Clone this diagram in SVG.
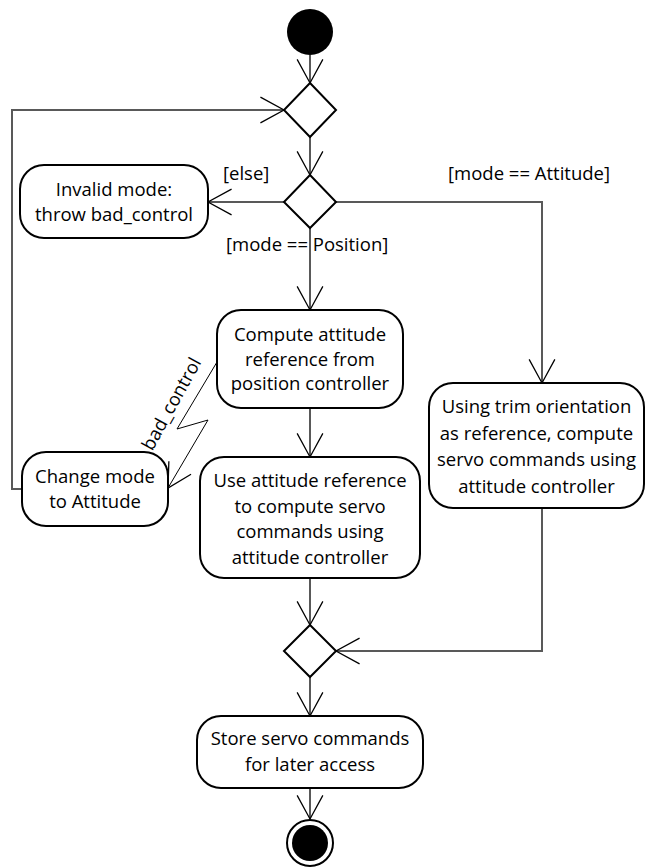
<svg xmlns="http://www.w3.org/2000/svg" width="646" height="867" viewBox="0 0 646 867">
<style>
.box{fill:#fff;stroke:#000;stroke-width:2}
.dia{fill:#fff;stroke:#000;stroke-width:2}
.t{font-family:"Open Sans","Noto Sans",sans-serif;font-size:18.5px;fill:#000;text-anchor:middle}
.l{font-family:"Open Sans","Noto Sans",sans-serif;font-size:18.5px;fill:#000}
.c{fill:none;stroke:#595959;stroke-width:2}
.z{fill:none;stroke:#000;stroke-width:1}
</style>
<defs>
<marker id="ah" markerUnits="userSpaceOnUse" markerWidth="30" markerHeight="30" viewBox="-24 -14 28 28" refX="0" refY="0" orient="auto">
<path d="M-22,-12 L0,0 L-22,12" fill="none" stroke="#000" stroke-width="1.2"/>
</marker>
</defs>
<g id="connectors">
<path class="c" d="M310,55 V83" marker-end="url(#ah)"/>
<path class="c" d="M22,489 H12 V110 H284" marker-end="url(#ah)"/>
<path class="c" d="M310,137 V175" marker-end="url(#ah)"/>
<path class="c" d="M284,202 H208" marker-end="url(#ah)"/>
<path class="c" d="M336,202 H542 V383" marker-end="url(#ah)"/>
<path class="c" d="M310,228 V310" marker-end="url(#ah)"/>
<path class="c" d="M310,408 V457" marker-end="url(#ah)"/>
<path class="z" d="M217,362 L177,429 L208,420 L168,488" marker-end="url(#ah)"/>
<path class="c" d="M310,578 V625" marker-end="url(#ah)"/>
<path class="c" d="M542,508 V651 H336" marker-end="url(#ah)"/>
<path class="c" d="M310,677 V716" marker-end="url(#ah)"/>
<path class="c" d="M310,788 V819" marker-end="url(#ah)"/>
<text class="l" x="223" y="180">[else]</text>
<text class="l" x="448" y="180">[mode == Attitude]</text>
<text class="l" x="226" y="251">[mode == Position]</text>
<text class="t" transform="translate(177,407) rotate(-61)">bad_control</text>
</g>
<g id="start"><circle cx="310" cy="32" r="23" fill="#000"/></g>
<g id="merge1"><polygon class="dia" points="310,83 336,110 310,137 284,110"/></g>
<g id="decision"><polygon class="dia" points="310,175 336,202 310,228 284,202"/></g>
<g id="invalid">
<rect class="box" x="20" y="165" width="188" height="73" rx="24"/>
<text class="t" x="114" y="196">Invalid mode:</text>
<text class="t" x="114" y="221">throw bad_control</text>
</g>
<g id="compute">
<rect class="box" x="217" y="310" width="186" height="98" rx="24"/>
<text class="t" x="310" y="341">Compute attitude</text>
<text class="t" x="310" y="365.5">reference from</text>
<text class="t" x="310" y="390">position controller</text>
</g>
<g id="change">
<rect class="box" x="22" y="452" width="146" height="74" rx="24"/>
<text class="t" x="95" y="483">Change mode</text>
<text class="t" x="95" y="508">to Attitude</text>
</g>
<g id="use">
<rect class="box" x="200" y="457" width="220" height="121" rx="24"/>
<text class="t" x="310" y="487">Use attitude reference</text>
<text class="t" x="310" y="512.5">to compute servo</text>
<text class="t" x="310" y="538">commands using</text>
<text class="t" x="310" y="563.5">attitude controller</text>
</g>
<g id="trim">
<rect class="box" x="429" y="383" width="215" height="125" rx="24"/>
<text class="t" x="536.5" y="413">Using trim orientation</text>
<text class="t" x="536.5" y="439.5">as reference, compute</text>
<text class="t" x="536.5" y="466">servo commands using</text>
<text class="t" x="536.5" y="492.5">attitude controller</text>
</g>
<g id="merge2"><polygon class="dia" points="310,625 336,651 310,677 284,651"/></g>
<g id="store">
<rect class="box" x="197" y="716" width="226" height="72" rx="24"/>
<text class="t" x="310" y="745">Store servo commands</text>
<text class="t" x="310" y="771">for later access</text>
</g>
<g id="end">
<circle cx="310" cy="843" r="23" fill="#fff" stroke="#000" stroke-width="2"/>
<circle cx="310" cy="843" r="18" fill="#000"/>
</g>
</svg>
